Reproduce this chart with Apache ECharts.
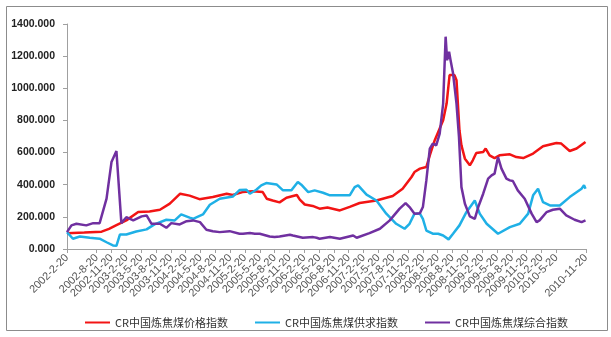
<!DOCTYPE html>
<html>
<head>
<meta charset="utf-8">
<script src="https://cdn.jsdelivr.net/npm/echarts@6/dist/echarts.min.js"></script>
<style>
html,body{margin:0;padding:0;background:#fff;}
#c{width:611px;height:337px;}
</style>
</head>
<body>
<div id="c"></div>
<script>
// x values are months elapsed since 2002-2-20 (tick every 3 months, last tick 2010-11-20)
var seriesNames = ['CR中国炼焦煤价格指数', 'CR中国炼焦煤供求指数', 'CR中国炼焦煤综合指数'];
var yTicks = [0, 200, 400, 600, 800, 1000, 1200, 1400];

var priceT = [0,3.5,7.0,8.5,10.0,12.0,14.4,16.7,18.8,20.8,22.9,24.8,26.8,29.5,32.3,33.5,35.5,37.6,39.6,40.4,41.6,43.0,44.4,46.5,47.1,48.1,49.7,51.1,52.7,55.2,57.2,59.2,62.6,65.9,67.9,69.7,70.3,71.4,72.7,73.4,74.4,76.1,76.8,77.4,78.4,78.8,79.4,79.8,80.5,81.5,82.1,82.8,84.2,84.7,85.5,86.5,87.5,89.6,90.9,92.3,94.3,96.3,99.0,100.0,101.7,103.1,104.9];
var priceV = [98,102,108,125,148,178,230,234,244,282,344,332,310,323,344,336,354,360,354,313,302,290,319,336,307,277,268,251,258,240,262,286,302,330,375,448,479,500,510,583,677,801,905,1082,1082,1051,739,645,562,521,552,597,604,625,583,566,583,589,572,566,594,639,660,656,610,625,666];

var supplyT = [0,1.2,2.6,4.6,6.6,8.0,9.3,10.0,10.7,12.0,14.0,16.1,17.7,20.1,21.8,23.1,24.8,25.5,27.5,28.9,30.9,33.6,34.9,36.3,37.0,38.3,39.3,40.3,42.4,43.7,45.4,46.7,47.4,48.8,50.1,51.8,53.2,55.2,57.2,58.2,58.9,60.6,62.6,64.6,66.6,68.3,69.3,70.3,71.4,72.0,72.7,74.0,75.1,76.1,77.2,78.1,79.4,80.8,82.5,83.5,84.9,87.2,89.6,91.6,93.3,94.3,95.3,96.3,97.7,99.7,101.7,104.1,104.6,104.9];
var supplyV = [105,64,78,70,64,42,22,20,90,90,109,122,153,182,178,215,195,188,215,275,313,327,367,369,344,369,396,410,402,365,365,417,400,354,365,350,334,334,334,385,396,338,302,220,157,126,157,220,220,188,115,95,95,84,60,95,147,229,302,220,157,95,136,157,220,334,375,292,271,271,323,375,396,375];

var compT = [0,0.9,1.9,3.9,5.3,6.6,8.0,9.0,10.0,11.0,12.0,13.4,15.1,16.1,17.1,18.8,20.1,21.1,22.8,24.2,25.5,26.9,28.2,29.5,30.9,32.9,34.9,35.6,37.0,38.0,39.0,41.0,42.0,43.0,45.1,45.7,47.7,48.1,49.8,50.5,51.1,53.2,55.2,57.9,58.6,61.2,63.3,65.3,67.3,68.5,69.3,70.3,71.4,72.0,72.7,73.4,74.0,74.7,75.4,76.1,76.6,76.9,77.3,77.6,78.1,78.8,79.3,79.8,80.5,81.5,82.5,83.2,84.2,85.2,85.9,86.5,87.2,87.9,88.9,89.6,90.2,91.2,92.6,94.0,95.0,95.6,97.0,98.3,99.7,101.0,102.7,104.1,104.9];
var compV = [105,147,157,147,161,161,313,541,610,161,198,178,203,209,157,157,132,161,153,173,178,167,120,111,105,111,95,95,99,95,95,78,74,78,89,84,70,74,74,70,64,74,64,84,70,99,126,178,251,286,261,220,223,261,427,625,656,645,718,905,1321,1175,1227,1175,1093,905,697,385,282,203,188,261,344,438,458,469,572,500,438,427,423,365,313,220,167,178,229,244,251,209,182,167,178];

function pairs(t, v) { return t.map(function (x, i) { return [x, v[i]]; }); }
function monthLabel(m) {
  var k = 1 + Math.round(m);
  return (2002 + Math.floor(k / 12)) + '-' + (k % 12 + 1) + '-20';
}
var colors = ['#f21414', '#1fb0e6', '#7030a0'];

var chart = echarts.init(document.getElementById('c'), null, {renderer: 'canvas'});
chart.setOption({
  animation: false,
  backgroundColor: '#fff',
  color: colors,
  graphic: [{
    type: 'rect', left: 4, top: 4, z: -1,
    shape: {width: 601, height: 324},
    style: {fill: 'none', stroke: '#8c8c8c', lineWidth: 1}
  }],
  grid: {left: 67, right: 25, top: 24, bottom: 88, containLabel: false},
  legend: {
    left: 80, top: 312,
    itemWidth: 25, itemHeight: 2, itemGap: 27,
    icon: 'rect',
    textStyle: {fontSize: 11, color: '#333', fontFamily: 'Noto Sans CJK SC'},
    data: seriesNames
  },
  xAxis: {
    type: 'value', min: 0, max: 105, interval: 3,
    splitLine: {show: false},
    axisLine: {lineStyle: {color: '#a0a0a0'}},
    axisTick: {show: true, length: 4, lineStyle: {color: '#a0a0a0'}},
    axisLabel: {
      rotate: 45, fontSize: 11, color: '#555', margin: 7,
      fontFamily: 'Liberation Sans',
      showMinLabel: true, showMaxLabel: true, hideOverlap: false,
      formatter: function (v) { return monthLabel(v); }
    }
  },
  yAxis: {
    type: 'value', min: yTicks[0], max: yTicks[yTicks.length - 1], interval: 200,
    splitLine: {show: false},
    axisLine: {show: true, lineStyle: {color: '#a0a0a0'}},
    axisTick: {show: true, length: 4, lineStyle: {color: '#a0a0a0'}},
    axisLabel: {
      fontSize: 10.5, fontWeight: 'bold', color: '#222', margin: 12,
      fontFamily: 'Liberation Sans',
      showMinLabel: true, showMaxLabel: true,
      formatter: function (v) { return v.toFixed(3); }
    }
  },
  series: [
    {name: seriesNames[0], type: 'line', showSymbol: false, data: pairs(priceT, priceV), lineStyle: {width: 2.5}},
    {name: seriesNames[1], type: 'line', showSymbol: false, data: pairs(supplyT, supplyV), lineStyle: {width: 2.5}},
    {name: seriesNames[2], type: 'line', showSymbol: false, data: pairs(compT, compV), lineStyle: {width: 2.5}}
  ]
});
</script>
</body>
</html>
